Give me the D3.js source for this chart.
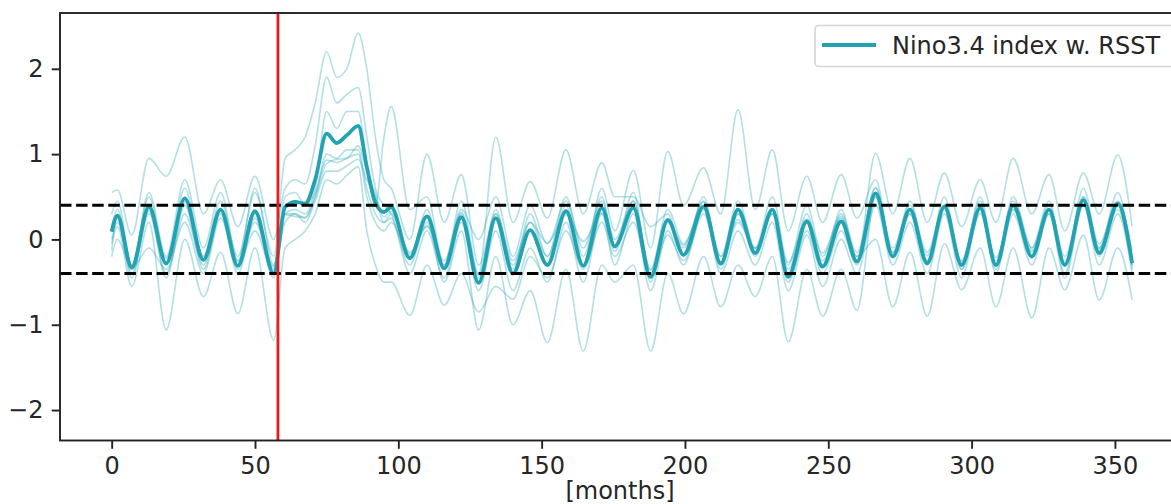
<!DOCTYPE html>
<html>
<head>
<meta charset="utf-8">
<script src="https://cdn.jsdelivr.net/npm/d3@7"></script>
<style>
  html, body { margin: 0; padding: 0; background: #fff; }
  svg { display: block; font-family: "DejaVu Sans", sans-serif; }
</style>
</head>
<body>
<svg id="chart" width="1171" height="504"></svg>
<script>
// Months at which the series turn (peaks, troughs and shoulders)
const months = [0, 2, 7, 13, 19, 25.5, 32, 38, 44, 50, 56.5, 60.5, 64, 67.5, 71, 75, 78.5, 82, 86, 89,
  92, 95, 97.5, 104, 110, 116, 122, 128, 134, 140, 146, 152, 158.5, 164.5, 171, 175.5, 182, 188, 194, 199.5,
  206.5, 212.5, 218.5, 224.5, 230.5, 236, 242.5, 248, 254.5, 260, 266.5, 272.5, 278.5, 284.5, 290.5, 296.5, 303, 308.5,
  314.5, 321, 327, 332.5, 339, 344.5, 351, 356];

// Ensemble mean of the Nino3.4 index
const ensembleMean = [0.09, 0.28, -0.33, 0.385, -0.28, 0.48, -0.24, 0.35, -0.31, 0.33, -0.40, 0.38, 0.44, 0.42, 0.7, 1.24, 1.13, 1.22, 1.33, 0.85,
  0.43, 0.32, 0.38, -0.22, 0.27, -0.34, 0.26, -0.51, 0.25, -0.40, 0.11, -0.30, 0.33, -0.31, 0.37, -0.08, 0.37, -0.44, 0.23, -0.18,
  0.385, -0.28, 0.35, -0.16, 0.35, -0.44, 0.21, -0.32, 0.21, -0.26, 0.54, -0.20, 0.35, -0.28, 0.385, -0.30, 0.37, -0.30,
  0.40, -0.20, 0.35, -0.30, 0.46, -0.16, 0.42, -0.28];

// Individual ensemble members
const member1 = [0.3, 0.45, -0.3, 0.5, -0.3, 0.6, -0.2, 0.45, -0.2, 0.55, -0.2, 0.95, 1.05, 1.2, 1.6, 2.2, 1.9, 2.0, 2.42, 2.0,
  1.2, 0.7, 0.6, 0.0, 1.0, 0.2, 0.76, -0.3, 0.3, -0.3, 0.2, -0.2, 0.4, -0.3, 0.6, 0.1, 0.81, -0.1, 1.03, 0.4,
  0.84, 0.3, 1.52, 0.35, 1.05, 0.1, 0.74, 0.2, 0.76, 0.25, 0.7, -0.2, 0.45, -0.25, 0.5, -0.3, 0.5, -0.3,
  0.5, -0.1, 0.45, -0.3, 0.6, -0.1, 0.55, -0.35];
const member2 = [0.55, 0.58, 0.05, 0.95, 0.74, 1.2, 0.3, 0.7, 0.15, 0.74, 0.0, 0.6, 0.7, 0.65, 1.1, 1.9, 1.6, 1.7, 1.78, 1.2,
  0.6, 0.4, 0.3, -0.3, 0.2, -0.5, 0.1, -1.06, -0.2, -1.0, -0.6, -1.21, -0.35, -1.31, -0.3, -0.5, -0.3, -1.31, -0.4, -0.87,
  -0.2, -0.79, -0.3, -0.67, -0.2, -1.2, -0.35, -0.9, -0.35, -0.83, 0.5, -0.15, 0.3, -0.25, 0.35, -0.35, 0.3, -0.3,
  0.35, -0.15, 0.3, -0.3, 0.45, -0.1, 0.35, -0.3];
const member3 = [0.1, 0.25, -0.45, 0.35, -0.45, 0.4, -0.35, 0.3, -0.4, 0.25, -0.45, 0.3, 0.35, 0.3, 0.6, 1.5, 1.3, 1.5, 1.5, 0.9,
  0.4, 1.2, 1.56, 0.35, 0.5, -0.3, 0.45, -0.4, 1.2, 0.2, 0.68, 0.25, 1.05, 0.3, 0.9, 0.5, 0.5, 0.15, 0.3, -0.2,
  0.5, -0.3, 0.3, -0.2, 0.3, -0.5, 0.1, -0.4, 0.1, -0.3, 0.5, -0.2, 0.3, -0.3, 0.4, -0.35, 0.4, -0.4,
  0.4, -0.2, 0.35, -0.4, 0.5, -0.2, 0.4, -0.3];
const member4 = [0.0, 0.2, -0.4, 0.3, -0.4, 0.3, -0.3, 0.35, -0.35, 0.3, -0.35, 0.2, 0.3, 0.25, 0.5, 1.0, 0.95, 1.05, 1.05, 0.6,
  0.3, 0.2, 0.25, -0.4, 0.1, -0.45, 0.2, -0.6, 0.1, -0.6, -0.1, -0.5, 0.2, -0.5, 0.3, -0.3, 0.3, -0.6, 0.1, -0.3,
  0.35, -0.4, 0.1, -0.3, 0.2, -0.6, 0.05, -0.55, 0.0, -0.4, 0.4, -0.3, 0.2, -0.4, 0.3, -0.45, 0.35, -0.35,
  0.3, -0.3, 0.3, -0.45, 0.4, -0.3, 0.3, -0.4];
const member5 = [0.15, 0.35, -0.35, 0.55, -0.2, 0.7, -0.1, 0.55, -0.25, 0.6, -0.3, 0.5, 0.55, 0.4, 0.55, 0.93, 0.9, 0.95, 1.0, 0.5,
  0.2, 0.1, 0.2, -0.2, 0.35, -0.35, 0.3, -0.45, 0.35, -0.35, 0.3, -0.2, 0.5, -0.2, 0.5, -0.1, 0.55, -0.5, 0.2, -0.1,
  0.45, -0.35, 0.3, -0.15, 0.35, -0.4, 0.3, -0.3, 0.35, -0.25, 1.01, 0.3, 0.95, 0.2, 0.78, 0.15, 0.7, 0.2,
  0.95, 0.3, 0.76, 0.1, 0.78, 0.3, 0.99, 0.15];
const member6 = [-0.05, 0.15, -0.55, 0.2, -1.06, 0.0, -0.67, -0.15, -0.87, -0.1, -1.18, -0.1, 0.0, 0.1, 0.3, 0.7, 0.65, 0.75, 0.85, 0.1,
  -0.3, -0.5, -0.5, -0.89, -0.3, -0.77, -0.4, -0.85, -0.55, -0.7, -0.2, -0.45, 0.1, -0.35, 0.2, -0.2, 0.2, -0.45, 0.05, -0.25,
  0.3, -0.3, 0.2, -0.1, 0.3, -0.35, 0.2, -0.25, 0.25, -0.2, 0.0, -0.79, -0.15, -0.9, -0.05, -0.59, -0.1, -0.79,
  -0.1, -0.92, -0.1, -0.59, 0.05, -0.71, -0.1, -0.71];
const member7 = [-0.2, 0.0, -0.34, -0.1, -0.35, 0.2, -0.4, 0.25, -0.3, 0.1, -0.4, 0.3, 0.3, 0.2, 0.45, 0.8, 0.8, 0.86, 0.94, 0.7,
  0.5, 0.2, 0.3, -0.15, 0.15, -0.3, 0.35, 0.0, 0.5, -0.2, 0.4, -0.05, 0.45, -0.1, 0.45, 0.0, 0.45, -0.35, 0.35, -0.05,
  0.4, -0.2, 0.45, -0.1, 0.5, -0.3, 0.4, -0.2, 0.3, -0.15, 0.6, -0.1, 0.4, -0.15, 0.4, -0.25, 0.45, -0.25,
  0.45, -0.1, 0.4, -0.2, 0.5, -0.05, 0.45, -0.2];
const member8 = [-0.13, 0.26, -0.3, 0.33, -0.22, 0.44, -0.2, 0.35, -0.26, 0.2, -0.32, 0.29, 0.27, 0.26, 0.5, 0.89, 0.94, 0.95, 1.1, 0.8,
  0.54, 0.26, 0.33, -0.17, 0.16, -0.25, 0.32, -0.42, 0.3, -0.25, 0.2, -0.04, 0.29, -0.02, 0.31, -0.14, 0.45, -0.36, 0.21, -0.07,
  0.44, -0.2, 0.23, -0.11, 0.3, -0.27, 0.24, -0.16, 0.27, -0.2, 0.61, -0.16, 0.35, -0.19, 0.4, -0.26, 0.36, -0.21,
  0.35, -0.13, 0.34, -0.26, 0.4, -0.12, 0.42, -0.13];
const members = [member1, member2, member3, member4, member5, member6, member7, member8];

// Reference markers
const thresholds = [0.4, -0.4];
const eventMonth = 58;

// Axis ticks
const xTicks = [0, 50, 100, 150, 200, 250, 300, 350];
const yTicks = [-2, -1, 0, 1, 2];
const legendLabel = "Nino3.4 index w. RSST";
const xLabel = "[months]";

const svg = d3.select("#chart");
const plot = { left: 60, right: 1180, top: 13, bottom: 440.5 };

const x = d3.scaleLinear().domain([-18.03, 372.7]).range([plot.left, plot.right]);
const y = d3.scaleLinear().domain([-2.357, 2.654]).range([plot.bottom, plot.top]);

svg.append("defs").append("clipPath").attr("id", "plot-clip")
  .append("rect")
  .attr("x", plot.left).attr("y", plot.top)
  .attr("width", plot.right - plot.left).attr("height", plot.bottom - plot.top);

const teal = "#23a3b1";
const line = d3.line()
  .x((d, i) => x(months[i]))
  .y(d => y(d))
  .curve(d3.curveMonotoneX);

const g = svg.append("g").attr("clip-path", "url(#plot-clip)");

// ensemble members
g.selectAll("path.member")
  .data(members)
  .join("path")
  .attr("class", "member")
  .attr("d", line)
  .attr("fill", "none")
  .attr("stroke", "#2aa9b7")
  .attr("stroke-opacity", 0.36)
  .attr("stroke-width", 1.6);

// ensemble mean
g.append("path")
  .attr("d", line(ensembleMean))
  .attr("fill", "none")
  .attr("stroke", teal)
  .attr("stroke-width", 3.8)
  .attr("stroke-linejoin", "round");

// +/- 0.4 thresholds
g.selectAll("line.threshold")
  .data(thresholds)
  .join("line")
  .attr("class", "threshold")
  .attr("x1", plot.left).attr("x2", plot.right)
  .attr("y1", d => y(d)).attr("y2", d => y(d))
  .attr("stroke", "#000")
  .attr("stroke-width", 3)
  .attr("stroke-dasharray", "11.5,4.6");

// event marker
g.append("line")
  .attr("x1", x(eventMonth)).attr("x2", x(eventMonth))
  .attr("y1", plot.top).attr("y2", plot.bottom)
  .attr("stroke", "#ec1c1c")
  .attr("stroke-width", 2.8);

// axes
const fontSize = 24;
const xAxis = svg.append("g")
  .attr("transform", `translate(0,${plot.bottom})`)
  .call(d3.axisBottom(x).tickValues(xTicks).tickSize(8.3).tickPadding(8).tickSizeOuter(0));
const yAxis = svg.append("g")
  .attr("transform", `translate(${plot.left},0)`)
  .call(d3.axisLeft(y).tickValues(yTicks).tickSize(8.3).tickPadding(8.3).tickSizeOuter(0)
    .tickFormat(d => d < 0 ? "\u2212" + Math.abs(d) : String(d)));

[xAxis, yAxis].forEach(a => {
  a.select(".domain").remove();
  a.selectAll(".tick line").attr("stroke", "#222").attr("stroke-width", 1.9);
  a.selectAll(".tick text").attr("fill", "#262626")
    .style("font-size", fontSize + "px")
    .style("font-family", "'DejaVu Sans', sans-serif");
});

// spines
svg.append("rect")
  .attr("x", plot.left).attr("y", plot.top)
  .attr("width", plot.right - plot.left).attr("height", plot.bottom - plot.top)
  .attr("fill", "none")
  .attr("stroke", "#222")
  .attr("stroke-width", 1.9);

// x label
svg.append("text")
  .attr("x", (plot.left + plot.right) / 2)
  .attr("y", 499)
  .attr("text-anchor", "middle")
  .attr("fill", "#262626")
  .style("font-size", fontSize + "px")
  .text(xLabel);

// legend
const legend = svg.append("g");
legend.append("rect")
  .attr("x", 815).attr("y", 25.5)
  .attr("width", 362).attr("height", 41)
  .attr("rx", 4).attr("ry", 4)
  .attr("fill", "#fff").attr("fill-opacity", 0.85)
  .attr("stroke", "#d4d4d4").attr("stroke-width", 1.6);
legend.append("line")
  .attr("x1", 822).attr("x2", 876)
  .attr("y1", 45).attr("y2", 45)
  .attr("stroke", teal).attr("stroke-width", 3.8);
legend.append("text")
  .attr("x", 892).attr("y", 53.5)
  .attr("fill", "#262626")
  .style("font-size", fontSize + "px")
  .text(legendLabel);
</script>
</body>
</html>
